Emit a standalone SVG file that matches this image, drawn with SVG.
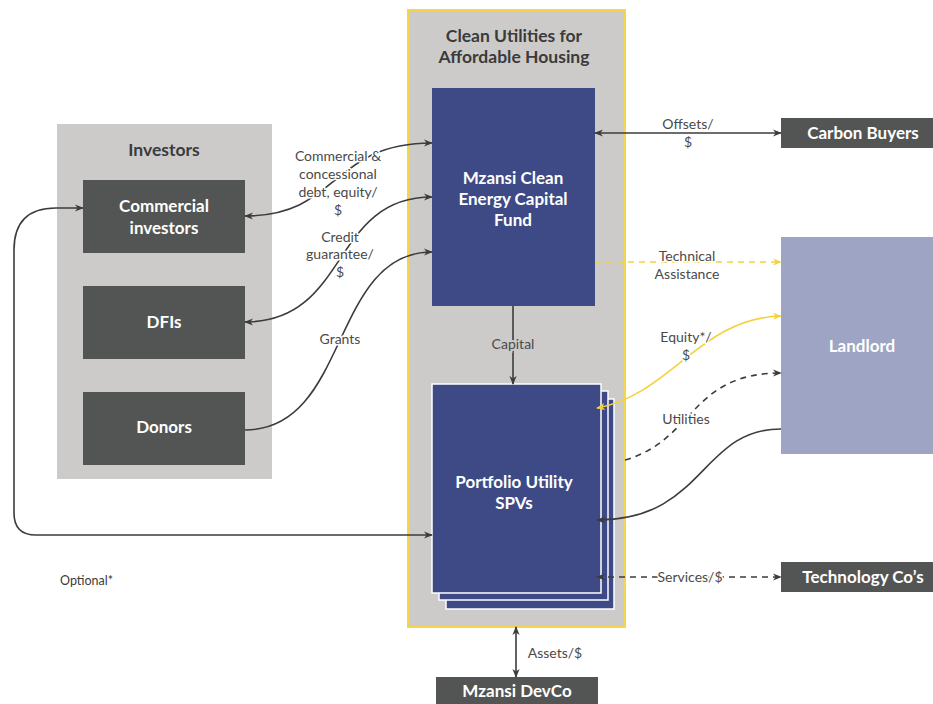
<svg xmlns="http://www.w3.org/2000/svg" width="933" height="704" viewBox="0 0 933 704">
<style>
.cont{fill:#cccbca}
.dark{fill:#535554}
.navy{fill:#3d4a85}
.nt{font-family:Lato,"Open Sans",sans-serif;font-weight:bold;font-size:17px;fill:#fff;text-anchor:middle}
.tt{font-family:Lato,"Open Sans",sans-serif;font-weight:bold;font-size:17.5px;fill:#3b3b3b;text-anchor:middle}
.lb{font-family:Lato,"Open Sans",sans-serif;font-size:14px;fill:#4a4a4a;text-anchor:middle;paint-order:stroke;stroke:#fff;stroke-width:3px;stroke-linejoin:round}
.lbg{font-family:Lato,"Open Sans",sans-serif;font-size:14px;fill:#4a4a4a;text-anchor:middle;paint-order:stroke;stroke:#cccbca;stroke-width:4px}
.ln{fill:none;stroke:#3c3c3c;stroke-width:1.6}
.ly{fill:none;stroke:#f4d23e;stroke-width:1.6}
.dash{stroke-dasharray:6 5}
</style>
<defs>
<marker id="ad" viewBox="0 0 10 10" refX="9" refY="5" markerWidth="9" markerHeight="9" markerUnits="userSpaceOnUse" orient="auto-start-reverse"><path d="M0,1 L10,5 L0,9 L3,5 Z" fill="#3c3c3c"/></marker>
<marker id="ay" viewBox="0 0 10 10" refX="9" refY="5" markerWidth="9" markerHeight="9" markerUnits="userSpaceOnUse" orient="auto-start-reverse"><path d="M0,1 L10,5 L0,9 L3,5 Z" fill="#f4d23e"/></marker>
</defs>
<rect width="933" height="704" fill="#fff"/>

<g id="investors">
<rect class="cont" x="57" y="124" width="215" height="355"/>
<text class="tt" x="164" y="156" font-size="16">Investors</text>
</g>
<g id="commercial-investors">
<rect class="dark" x="83" y="180" width="162" height="73"/>
<text class="nt" x="164" y="212">Commercial</text>
<text class="nt" x="164" y="234">investors</text>
</g>
<g id="dfis">
<rect class="dark" x="83" y="286" width="162" height="73"/>
<text class="nt" x="164" y="328">DFIs</text>
</g>
<g id="donors">
<rect class="dark" x="83" y="392" width="162" height="73"/>
<text class="nt" x="164" y="433">Donors</text>
</g>

<g id="clean-utilities">
<rect class="cont" x="408" y="10" width="217" height="617" stroke="#f5d64b" stroke-width="2"/>
<text class="tt" x="514" y="42">Clean Utilities for</text>
<text class="tt" x="514" y="63">Affordable Housing</text>
</g>
<g id="fund">
<rect class="navy" x="432" y="88" width="163" height="218"/>
<text class="nt" x="513" y="184">Mzansi Clean</text>
<text class="nt" x="513" y="205">Energy Capital</text>
<text class="nt" x="513" y="226">Fund</text>
</g>
<g id="spvs">
<rect class="navy" x="446" y="399" width="168" height="210" stroke="#fff" stroke-width="1.5"/>
<rect class="navy" x="439" y="391" width="169" height="209" stroke="#fff" stroke-width="1.5"/>
<rect class="navy" x="432" y="384" width="169" height="209" stroke="#fff" stroke-width="1.5"/>
<text class="nt" x="514" y="488">Portfolio Utility</text>
<text class="nt" x="514" y="509">SPVs</text>
</g>

<g id="carbon-buyers">
<rect class="dark" x="781" y="118" width="152" height="30"/>
<text class="nt" x="863" y="139">Carbon Buyers</text>
</g>
<g id="landlord">
<rect x="781" y="237" width="152" height="217" fill="#9ea4c3"/>
<text class="nt" x="862" y="352">Landlord</text>
</g>
<g id="technology">
<rect class="dark" x="781" y="562" width="152" height="30"/>
<text class="nt" x="863" y="583">Technology Co’s</text>
</g>
<g id="devco">
<rect class="dark" x="436" y="677" width="162" height="27"/>
<text class="nt" x="517" y="697">Mzansi DevCo</text>
</g>

<g id="connectors">
<path class="ln" d="M245,216 C340,216 330,143 432,143" marker-start="url(#ad)" marker-end="url(#ad)"/>
<path class="ln" d="M245,322 C350,322 330,197 432,197" marker-start="url(#ad)" marker-end="url(#ad)"/>
<path class="ln" d="M245,430 C350,430 330,252 432,252" marker-end="url(#ad)"/>
<path class="ln" d="M432,535 L36,535 Q14,535 14,513 L14,250 Q14,208 56,208 L83,208" marker-start="url(#ad)" marker-end="url(#ad)"/>
<path class="ln" d="M595,133 L781,133" marker-start="url(#ad)" marker-end="url(#ad)"/>
<path class="ly dash" d="M595,262 L781,262" marker-end="url(#ay)"/>
<path class="ln" d="M513,306 L513,384" marker-end="url(#ad)"/>
<path class="ly" d="M781,316 C700,318 670,395 597,408" marker-start="url(#ay)" marker-end="url(#ay)"/>
<path class="ln dash" d="M625,460 C695,440 690,373 781,373" marker-end="url(#ad)"/>
<path class="ln" d="M781,429 C700,429 705,520 597,520" marker-end="url(#ad)"/>
<path class="ln dash" d="M597,577 L781,577" marker-start="url(#ad)" marker-end="url(#ad)"/>
<path class="ln" d="M516,627 L516,677" marker-start="url(#ad)" marker-end="url(#ad)"/>

<text class="lb" x="338" y="161">Commercial &amp;</text>
<text class="lb" x="338" y="179">concessional</text>
<text class="lb" x="338" y="197">debt, equity/</text>
<text class="lb" x="338" y="215">$</text>
<text class="lb" x="340" y="242">Credit</text>
<text class="lb" x="340" y="259">guarantee/</text>
<text class="lb" x="340" y="277">$</text>
<text class="lb" x="340" y="344">Grants</text>
<text class="lb" x="688" y="129">Offsets/</text>
<text class="lb" x="688" y="147">$</text>
<text class="lb" x="687" y="261">Technical</text>
<text class="lb" x="687" y="279">Assistance</text>
<text class="lbg" x="513" y="349">Capital</text>
<text class="lb" x="686" y="342">Equity*/</text>
<text class="lb" x="686" y="360">$</text>
<text class="lb" x="686" y="424">Utilities</text>
<text class="lb" x="690" y="582">Services/$</text>
<text class="lb" x="555" y="658">Assets/$</text>
</g>
<text x="60" y="585" font-family="Lato,'Open Sans',sans-serif" font-size="12.5" fill="#3b3b3b">Optional*</text>
</svg>
